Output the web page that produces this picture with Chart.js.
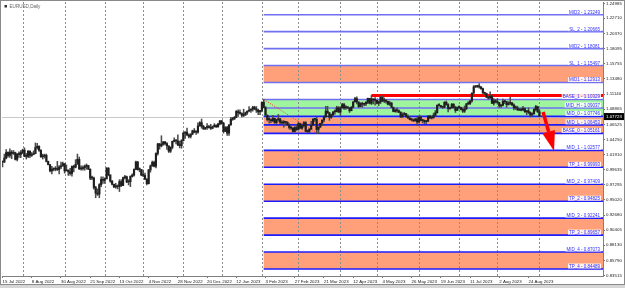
<!DOCTYPE html>
<html lang="en">
<head>
<meta charset="UTF-8">
<title>EURUSD,Daily</title>
<script src="https://cdn.jsdelivr.net/npm/chart.js"></script>
<style>
  html, body { margin: 0; padding: 0; background: #fff; }
  #wrap { width: 625px; height: 288px; }
</style>
</head>
<body>
<div id="wrap"><canvas id="chart" width="625" height="288"></canvas></div>
<script>
// EURUSD daily bars, 15 Jul 2022 .. 1 Sep 2023 (one value per bar, month by month)
const closes = [
  1.0080, 1.0140, 1.0225, 1.0180, 1.0230, 1.0210, 1.0220, 1.0120, 1.0200, 1.0195, 1.0225,
  1.0260, 1.0165, 1.0165, 1.0245, 1.0180, 1.0195, 1.0210, 1.0300, 1.0320, 1.0260,
  1.0160, 1.0170, 1.0180, 1.0090, 1.0040, 0.9945, 0.9970, 0.9970, 0.9975, 0.9965, 1.0005, 1.0020, 1.0055,
  0.9945, 0.9955, 0.9930, 0.9905, 1.0010, 1.0000, 1.0045, 1.0120, 0.9975, 0.9980, 0.9995,
  1.0015, 1.0025, 0.9970, 0.9835, 0.9835, 0.9690, 0.9605, 0.9590, 0.9735, 0.9815, 0.9800,
  0.9825, 0.9985, 0.9885, 0.9790, 0.9740, 0.9700, 0.9705, 0.9705, 0.9780, 0.9720,
  0.9840, 0.9855, 0.9775, 0.9780, 0.9860, 0.9880, 0.9965, 1.0080, 0.9965, 0.9965, 0.9880,
  0.9875, 0.9820, 0.9750, 0.9960, 1.0020, 1.0075, 1.0015, 1.0210, 1.0355, 1.0325, 1.0350,
  1.0385, 1.0360, 1.0325, 1.0245, 1.0305, 1.0395, 1.0410, 1.0400, 1.0340, 1.0330, 1.0405,
  1.0520, 1.0535, 1.0490, 1.0470, 1.0505, 1.0555, 1.0535, 1.0535, 1.0630, 1.0680, 1.0625,
  1.0585, 1.0605, 1.0620, 1.0605, 1.0595, 1.0615, 1.0640, 1.0615, 1.0660, 1.0705,
  1.0670, 1.0545, 1.0605, 1.0520, 1.0645, 1.0730, 1.0735, 1.0760, 1.0850, 1.0830, 1.0820,
  1.0790, 1.0795, 1.0830, 1.0855, 1.0870, 1.0885, 1.0915, 1.0890, 1.0870, 1.0845, 1.0865,
  1.0990, 1.0910, 1.0795, 1.0725, 1.0725, 1.0710, 1.0745, 1.0680, 1.0725, 1.0735,
  1.0685, 1.0675, 1.0695, 1.0685, 1.0645, 1.0605, 1.0595, 1.0545, 1.0605, 1.0575,
  1.0665, 1.0595, 1.0635, 1.0680, 1.0545, 1.0545, 1.0580, 1.0640, 1.0730, 1.0730, 1.0575, 1.0610,
  1.0670, 1.0720, 1.0770, 1.0855, 1.0830, 1.0760, 1.0800, 1.0845, 1.0845, 1.0905, 1.0840,
  1.0905, 1.0955, 1.0905, 1.0920, 1.0905, 1.0860, 1.0915, 1.0995, 1.1045, 1.0995,
  1.0925, 1.0970, 1.0960, 1.0965, 1.0990, 1.1050, 1.0975, 1.1040, 1.1025, 1.1020,
  1.0975, 1.0995, 1.1065, 1.1010, 1.1020, 1.1005, 1.0960, 1.0980, 1.0915, 1.0850, 1.0870, 1.0860,
  1.0840, 1.0765, 1.0805, 1.0815, 1.0770, 1.0750, 1.0725, 1.0720, 1.0705, 1.0735, 1.0690,
  1.0765, 1.0710, 1.0715, 1.0695, 1.0700, 1.0780, 1.0750, 1.0755, 1.0790, 1.0830, 1.0945,
  1.0940, 1.0920, 1.0915, 1.0990, 1.0955, 1.0895, 1.0905, 1.0960, 1.0910, 1.0865, 1.0910,
  1.0910, 1.0880, 1.0855, 1.0890, 1.0965, 1.0970, 1.1010, 1.1130, 1.1225, 1.1230, 1.1235,
  1.1225, 1.1200, 1.1130, 1.1125, 1.1065, 1.1055, 1.1085, 1.0975, 1.1015, 1.0995,
  1.0985, 1.0935, 1.0945, 1.1005, 1.1000, 1.0955, 1.0975, 1.0980, 1.0950, 1.0905, 1.0905, 1.0875,
  1.0870, 1.0870, 1.0895, 1.0845, 1.0860, 1.0835, 1.0795, 1.0815, 1.0880, 1.0925, 1.0845,
  1.0775
];
const highs = [
  1.0095, 1.0200, 1.0270, 1.0235, 1.0280, 1.0255, 1.0255, 1.0230, 1.0210, 1.0235, 1.0255,
  1.0275, 1.0295, 1.0210, 1.0255, 1.0250, 1.0225, 1.0250, 1.0370, 1.0365, 1.0325,
  1.0265, 1.0200, 1.0200, 1.0200, 1.0095, 1.0040, 1.0015, 0.9990, 1.0010, 1.0090, 1.0025, 1.0080, 1.0080,
  1.0055, 1.0035, 0.9960, 0.9985, 1.0020, 1.0030, 1.0115, 1.0200, 1.0155, 1.0020, 1.0020,
  1.0035, 1.0050, 1.0030, 0.9975, 0.9865, 0.9850, 0.9710, 0.9670, 0.9750, 0.9855, 0.9855,
  0.9840, 0.9995, 0.9995, 0.9880, 0.9795, 0.9745, 0.9755, 0.9730, 0.9810, 0.9810,
  0.9850, 0.9875, 0.9865, 0.9810, 0.9870, 0.9900, 0.9975, 1.0095, 1.0090, 0.9990, 0.9965,
  0.9955, 0.9910, 0.9825, 0.9965, 1.0035, 1.0095, 1.0095, 1.0220, 1.0365, 1.0365, 1.0480,
  1.0395, 1.0395, 1.0375, 1.0325, 1.0310, 1.0400, 1.0450, 1.0420, 1.0495, 1.0400, 1.0420,
  1.0535, 1.0545, 1.0595, 1.0510, 1.0510, 1.0565, 1.0590, 1.0555, 1.0675, 1.0695, 1.0735,
  1.0640, 1.0610, 1.0665, 1.0640, 1.0655, 1.0630, 1.0665, 1.0645, 1.0670, 1.0715,
  1.0715, 1.0685, 1.0620, 1.0625, 1.0650, 1.0760, 1.0760, 1.0775, 1.0865, 1.0875, 1.0875,
  1.0830, 1.0885, 1.0840, 1.0860, 1.0925, 1.0890, 1.0930, 1.0930, 1.0925, 1.0885, 1.0865,
  1.0995, 1.1035, 1.0925, 1.0795, 1.0755, 1.0735, 1.0790, 1.0750, 1.0730, 1.0805,
  1.0745, 1.0710, 1.0710, 1.0695, 1.0695, 1.0665, 1.0625, 1.0605, 1.0620, 1.0645,
  1.0690, 1.0670, 1.0640, 1.0695, 1.0695, 1.0565, 1.0590, 1.0700, 1.0740, 1.0745, 1.0760, 1.0615,
  1.0670, 1.0720, 1.0785, 1.0930, 1.0930, 1.0835, 1.0810, 1.0845, 1.0875, 1.0930, 1.0925,
  1.0920, 1.0975, 1.0975, 1.0940, 1.0925, 1.0905, 1.0925, 1.1000, 1.1065, 1.1075,
  1.0995, 1.0985, 1.0990, 1.0975, 1.1000, 1.1055, 1.1050, 1.1095, 1.1045, 1.1060,
  1.1020, 1.1010, 1.1080, 1.1090, 1.1055, 1.1030, 1.1010, 1.1005, 1.0985, 1.0915, 1.0890, 1.0905,
  1.0875, 1.0845, 1.0830, 1.0835, 1.0820, 1.0800, 1.0770, 1.0745, 1.0735, 1.0745, 1.0755,
  1.0780, 1.0780, 1.0730, 1.0720, 1.0710, 1.0785, 1.0790, 1.0780, 1.0825, 1.0865, 1.0950,
  1.0970, 1.0945, 1.0925, 1.1000, 1.1010, 1.0970, 1.0915, 1.0975, 1.0970, 1.0930, 1.0920,
  1.0935, 1.0915, 1.0905, 1.0935, 1.0975, 1.1000, 1.1015, 1.1135, 1.1245, 1.1245, 1.1250,
  1.1275, 1.1230, 1.1205, 1.1145, 1.1130, 1.1080, 1.1150, 1.1090, 1.1045, 1.1030,
  1.1045, 1.0990, 1.0955, 1.1040, 1.1020, 1.1000, 1.1000, 1.1065, 1.0990, 1.0965, 1.0935, 1.0930,
  1.0895, 1.0900, 1.0930, 1.0905, 1.0865, 1.0905, 1.0845, 1.0830, 1.0895, 1.0945, 1.0930,
  1.0880
];
const lows = [
  1.0005, 1.0070, 1.0125, 1.0155, 1.0150, 1.0130, 1.0195, 1.0110, 1.0095, 1.0150, 1.0145,
  1.0205, 1.0160, 1.0125, 1.0145, 1.0145, 1.0165, 1.0190, 1.0205, 1.0275, 1.0240,
  1.0150, 1.0125, 1.0140, 1.0080, 1.0035, 0.9930, 0.9900, 0.9945, 0.9945, 0.9950, 0.9900, 0.9980, 1.0015,
  0.9910, 0.9945, 0.9875, 0.9880, 0.9865, 0.9930, 0.9990, 1.0085, 0.9965, 0.9955, 0.9955,
  0.9955, 0.9970, 0.9965, 0.9810, 0.9810, 0.9665, 0.9535, 0.9570, 0.9535, 0.9705, 0.9755,
  0.9755, 0.9820, 0.9870, 0.9770, 0.9730, 0.9690, 0.9680, 0.9670, 0.9630, 0.9705,
  0.9720, 0.9820, 0.9765, 0.9730, 0.9705, 0.9850, 0.9865, 0.9965, 0.9955, 0.9930, 0.9870,
  0.9855, 0.9810, 0.9730, 0.9745, 0.9925, 1.0015, 1.0005, 0.9990, 1.0185, 1.0275, 1.0310,
  1.0335, 1.0340, 1.0270, 1.0225, 1.0225, 1.0280, 1.0385, 1.0355, 1.0330, 1.0295, 1.0290,
  1.0400, 1.0440, 1.0485, 1.0445, 1.0445, 1.0495, 1.0525, 1.0500, 1.0520, 1.0625, 1.0595,
  1.0575, 1.0575, 1.0575, 1.0595, 1.0575, 1.0585, 1.0615, 1.0605, 1.0610, 1.0645,
  1.0655, 1.0520, 1.0545, 1.0485, 1.0485, 1.0640, 1.0715, 1.0730, 1.0755, 1.0775, 1.0810,
  1.0765, 1.0770, 1.0790, 1.0805, 1.0850, 1.0835, 1.0855, 1.0875, 1.0835, 1.0800, 1.0800,
  1.0845, 1.0905, 1.0795, 1.0705, 1.0670, 1.0680, 1.0695, 1.0670, 1.0655, 1.0700,
  1.0660, 1.0655, 1.0610, 1.0655, 1.0635, 1.0580, 1.0575, 1.0535, 1.0535, 1.0560,
  1.0575, 1.0590, 1.0575, 1.0610, 1.0545, 1.0525, 1.0525, 1.0575, 1.0635, 1.0700, 1.0515, 1.0515,
  1.0610, 1.0635, 1.0690, 1.0760, 1.0820, 1.0715, 1.0745, 1.0780, 1.0810, 1.0845, 1.0835,
  1.0790, 1.0905, 1.0880, 1.0880, 1.0895, 1.0835, 1.0865, 1.0905, 1.0995, 1.0965,
  1.0910, 1.0920, 1.0915, 1.0935, 1.0940, 1.0970, 1.0965, 1.0955, 1.0965, 1.0945,
  1.0965, 1.0940, 1.0970, 1.1000, 1.0985, 1.0975, 1.0950, 1.0940, 1.0905, 1.0845, 1.0840, 1.0835,
  1.0830, 1.0760, 1.0760, 1.0795, 1.0760, 1.0745, 1.0720, 1.0705, 1.0700, 1.0705, 1.0635,
  1.0675, 1.0705, 1.0675, 1.0665, 1.0665, 1.0695, 1.0740, 1.0735, 1.0745, 1.0775, 1.0825,
  1.0930, 1.0910, 1.0895, 1.0905, 1.0945, 1.0845, 1.0880, 1.0905, 1.0900, 1.0835, 1.0865,
  1.0890, 1.0875, 1.0835, 1.0835, 1.0880, 1.0955, 1.0955, 1.0990, 1.1125, 1.1215, 1.1215,
  1.1205, 1.1185, 1.1130, 1.1105, 1.1065, 1.1035, 1.1050, 1.0970, 1.0945, 1.0980,
  1.0960, 1.0910, 1.0910, 1.0935, 1.0970, 1.0915, 1.0945, 1.0955, 1.0940, 1.0875, 1.0880, 1.0865,
  1.0865, 1.0860, 1.0865, 1.0835, 1.0800, 1.0815, 1.0765, 1.0795, 1.0810, 1.0860, 1.0835,
  1.0770
];
if (highs.length !== closes.length || lows.length !== closes.length) {
  throw new Error('bar arrays differ: ' + closes.length + ' ' + highs.length + ' ' + lows.length);
}
const firstDay = '2022-07-15';
const noBarDays = ['2022-12-26'];
const lastPrice = 1.07723;

// price scale labels on the right
const priceTicks = [1.24985, 1.22710, 1.20370, 1.18095, 1.15755, 1.13480, 1.11140, 1.08865,
  1.06525, 1.04250, 1.01910, 0.99635, 0.97295, 0.95020, 0.92680, 0.90405, 0.88130, 0.85790, 0.83515];

// horizontal levels drawn from 2 Feb 2023 (bar 143) onwards
const levelStart = 143;
const levelNames = ['MID3', 'SL_2', 'MID2', 'SL_1', 'MID1', 'BASE_1', 'MID_H', 'MID_0', 'MID_L', 'BASE_0',
  'MID_1', 'TP_1', 'MID_2', 'TP_2', 'MID_3', 'TP_3', 'MID_4', 'TP_4'];
const levelPrices = [1.23249, 1.20665, 1.18081, 1.15497, 1.12913, 1.10329, 1.09037, 1.07746, 1.06453, 1.05161,
  1.02577, 0.99993, 0.97409, 0.94825, 0.92241, 0.89657, 0.87073, 0.84489];
const orangeZones = [[1.12913, 1.15497], [1.05161, 1.07746], [0.99993, 1.02577],
  [0.94825, 0.97409], [0.89657, 0.92241], [0.84489, 0.87073]];
const greenZone = [1.07746, 1.10329];

// hand drawn objects: [bar index, price]
const trendLine = [[143, 1.1033], [173, 1.0506]];
const resistance = [202, 1.1095];
const arrow = [[296, 1.0842], [302, 1.0247]];

const MONTHS = ['Jan','Feb','Mar','Apr','May','Jun','Jul','Aug','Sep','Oct','Nov','Dec'];

// trading days for each bar
const dates = [];
let d = new Date(firstDay + 'T00:00:00Z');
while (dates.length < closes.length) {
  const iso = d.toISOString().slice(0, 10);
  const wd = d.getUTCDay();
  if (wd !== 0 && wd !== 6 && !noBarDays.includes(iso)) dates.push(new Date(d));
  d.setUTCDate(d.getUTCDate() + 1);
}
const fmtDate = dt => dt.getUTCDate() + ' ' + MONTHS[dt.getUTCMonth()] + ' ' + dt.getUTCFullYear();
const labelBars = [];
for (let i = 0; i < dates.length; i += 16) labelBars.push(i);
const monthStarts = [];
for (let i = 1; i < dates.length; i++) {
  if (dates[i].getUTCMonth() !== dates[i - 1].getUTCMonth()) monthStarts.push(i);
}

const FONT = '"Liberation Sans", Arial, sans-serif';

const overlay = {
  id: 'overlay',
  beforeDatasetsDraw(chart) {
    const {ctx, chartArea: a, scales: {x, y}} = chart;
    const x0 = x.getPixelForValue(levelStart);
    ctx.save();
    ctx.beginPath();
    ctx.rect(a.left, a.top, a.right - a.left, a.bottom - a.top);
    ctx.clip();

    // zones
    ctx.fillStyle = '#ffa07a';
    orangeZones.forEach(([lo, hi]) => {
      const t = y.getPixelForValue(hi), b = y.getPixelForValue(lo);
      ctx.fillRect(x0, t, a.right - x0, b - t);
    });
    ctx.fillStyle = '#9ef59e';
    {
      const t = y.getPixelForValue(greenZone[1]), b = y.getPixelForValue(greenZone[0]);
      ctx.fillRect(x0, t, a.right - x0, b - t);
    }

    // month grid
    ctx.strokeStyle = '#8c8c8c';
    ctx.lineWidth = 1;
    ctx.setLineDash([2, 2]);
    monthStarts.forEach(i => {
      const px = Math.round(x.getPixelForValue(i)) + 0.5;
      ctx.beginPath();
      ctx.moveTo(px, a.top);
      ctx.lineTo(px, a.bottom);
      ctx.stroke();
    });
    ctx.setLineDash([]);

    // bid line
    const py = Math.round(y.getPixelForValue(lastPrice)) + 0.5;
    ctx.strokeStyle = '#c8c8c8';
    ctx.beginPath();
    ctx.moveTo(a.left, py);
    ctx.lineTo(a.right, py);
    ctx.stroke();

    // level lines
    levelPrices.forEach(p => {
      const ly = y.getPixelForValue(p);
      ctx.strokeStyle = p > 1.08 ? '#6f6ff2' : '#1c1cff';
      ctx.lineWidth = 1.6;
      ctx.beginPath();
      ctx.moveTo(x0, ly);
      ctx.lineTo(a.right, ly);
      ctx.stroke();
    });

    // trend line (dotted)
    ctx.strokeStyle = '#ff3030';
    ctx.lineWidth = 1;
    ctx.setLineDash([1, 1.5]);
    ctx.beginPath();
    ctx.moveTo(x.getPixelForValue(trendLine[0][0]), y.getPixelForValue(trendLine[0][1]));
    ctx.lineTo(x.getPixelForValue(trendLine[1][0]), y.getPixelForValue(trendLine[1][1]));
    ctx.stroke();
    ctx.setLineDash([]);

    // resistance line
    ctx.strokeStyle = '#ff0000';
    ctx.lineWidth = 3;
    const ry = y.getPixelForValue(resistance[1]);
    ctx.beginPath();
    ctx.moveTo(x.getPixelForValue(resistance[0]), ry);
    ctx.lineTo(a.right, ry);
    ctx.stroke();
    ctx.restore();
  },
  afterDatasetsDraw(chart) {
    const {ctx, chartArea: a, scales: {x, y}} = chart;
    ctx.save();
    ctx.beginPath();
    ctx.rect(a.left, a.top, a.right - a.left, a.bottom - a.top);
    ctx.clip();

    // level labels
    ctx.font = '4.5px ' + FONT;
    ctx.textAlign = 'right';
    ctx.textBaseline = 'bottom';
    levelNames.forEach((n, i) => {
      const txt = n + ' - ' + levelPrices[i].toFixed(5);
      const ly = y.getPixelForValue(levelPrices[i]);
      const w = ctx.measureText(txt).width;
      ctx.fillStyle = 'rgba(255,255,255,0.85)';
      ctx.fillRect(a.right - 3 - w - 1, ly - 5.5, w + 2, 5);
      ctx.fillStyle = '#3030ff';
      ctx.fillText(txt, a.right - 3, ly);
    });

    // arrow
    const ax0 = x.getPixelForValue(arrow[0][0]), ay0 = y.getPixelForValue(arrow[0][1]);
    const ax1 = x.getPixelForValue(arrow[1][0]), ay1 = y.getPixelForValue(arrow[1][1]);
    const ang = Math.atan2(ay1 - ay0, ax1 - ax0);
    const headLen = 20, headW = 6.5;
    const bx = ax1 - headLen * Math.cos(ang), by = ay1 - headLen * Math.sin(ang);
    ctx.strokeStyle = '#ff0000';
    ctx.fillStyle = '#ff0000';
    ctx.lineWidth = 3.5;
    ctx.beginPath();
    ctx.moveTo(ax0, ay0);
    ctx.lineTo(bx, by);
    ctx.stroke();
    ctx.beginPath();
    ctx.moveTo(ax1, ay1);
    ctx.lineTo(bx + headW * Math.sin(ang), by - headW * Math.cos(ang));
    ctx.lineTo(bx - headW * Math.sin(ang), by + headW * Math.cos(ang));
    ctx.closePath();
    ctx.fill();

    // title
    ctx.fillStyle = '#333';
    ctx.fillRect(a.left + 2.5, a.top + 3, 2.5, 2.5);
    ctx.font = '4.6px ' + FONT;
    ctx.textAlign = 'left';
    ctx.textBaseline = 'middle';
    ctx.fillStyle = '#666';
    ctx.fillText('EURUSD,Daily', a.left + 7.5, a.top + 4.5);
    ctx.restore();

    // current price box
    const py = y.getPixelForValue(lastPrice);
    ctx.save();
    ctx.fillStyle = '#000';
    ctx.fillRect(a.right + 1, py - 3.5, 21, 7);
    ctx.fillStyle = '#fff';
    ctx.font = '4.4px ' + FONT;
    ctx.textAlign = 'left';
    ctx.textBaseline = 'middle';
    ctx.fillText(lastPrice.toFixed(5), a.right + 3, py);
    ctx.restore();
  },
  afterDraw(chart) {
    const {ctx} = chart;
    ctx.save();
    ctx.strokeStyle = '#8a8a8a';
    ctx.lineWidth = 1;
    ctx.strokeRect(0.5, 0.5, chart.width - 1, chart.height - 4);
    ctx.fillStyle = '#d6d6d6';
    ctx.fillRect(0, chart.height - 3, chart.width, 3);
    ctx.restore();
  }
};

new Chart(document.getElementById('chart'), {
  type: 'bar',
  data: {
    datasets: [{
      // wick: low..high
      data: closes.map((c, i) => ({x: i, y: [lows[i], highs[i]]})),
      backgroundColor: '#4a4a4a',
      barThickness: 0.9,
      grouped: false,
      order: 2
    }, {
      // body: open (previous close)..close
      data: closes.map((c, i) => ({x: i, y: [i > 0 ? closes[i - 1] : c, c]})),
      backgroundColor: '#1e1e1e',
      barThickness: 1.5,
      minBarLength: 1,
      grouped: false,
      order: 1
    }]
  },
  options: {
    responsive: false,
    animation: false,
    devicePixelRatio: 1,
    layout: {autoPadding: false, padding: {left: 2, top: 2, right: 0, bottom: 0}},
    plugins: {legend: {display: false}, tooltip: {enabled: false}},
    scales: {
      x: {
        type: 'linear',
        offset: false,
        min: -0.3,
        max: 328.8,
        afterBuildTicks: s => { s.ticks = labelBars.map(v => ({value: v})); },
        afterFit: s => { s.height = 12; s.paddingLeft = 0; s.paddingRight = 0; },
        grid: {drawOnChartArea: false, offset: false, tickLength: 2, color: '#777'},
        border: {color: '#808080'},
        ticks: {
          autoSkip: false,
          maxRotation: 0,
          align: 'start',
          padding: 1.5,
          color: '#222',
          font: {size: 4.4, family: FONT},
          callback: v => dates[v] ? fmtDate(dates[v]) : ''
        }
      },
      y: {
        type: 'linear',
        position: 'right',
        min: 0.83422,
        max: 1.25185,
        afterBuildTicks: s => { s.ticks = priceTicks.map(v => ({value: v})); },
        afterFit: s => { s.width = 22; s.paddingTop = 0; s.paddingBottom = 0; },
        grid: {drawOnChartArea: false, tickLength: 2, color: '#777'},
        border: {color: '#808080'},
        ticks: {
          padding: 1,
          color: '#222',
          font: {size: 4.4, family: FONT},
          callback: v => v.toFixed(5)
        }
      }
    }
  },
  plugins: [overlay]
});
</script>
</body>
</html>
